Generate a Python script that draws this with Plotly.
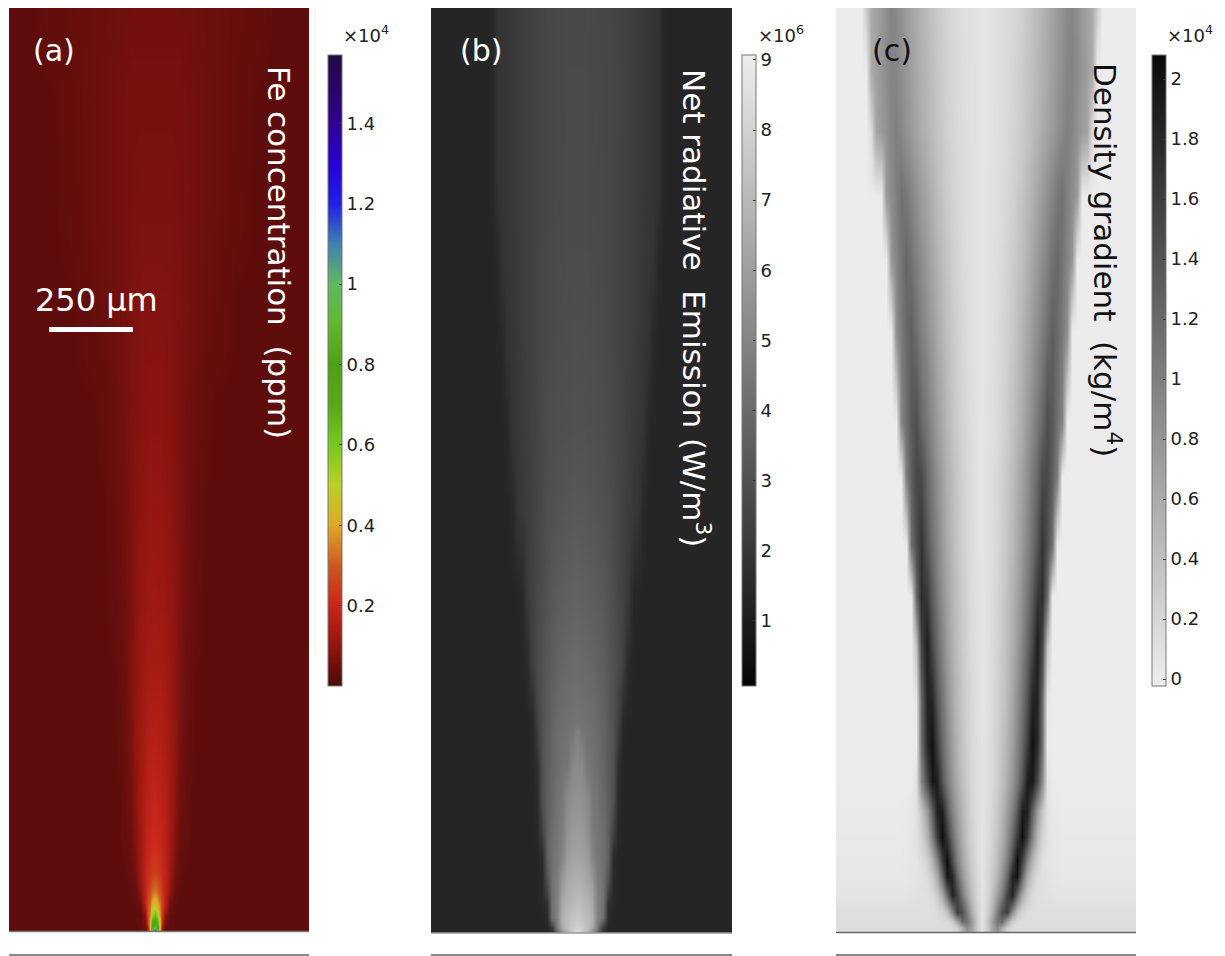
import plotly.graph_objects as go

W, H = 1225, 956
FONT = "DejaVu Sans"

# ---- shared half-profile helpers: tables hold the right half of each symmetric plume (um from axis)
fe_offsets = [0, 7, 15, 22, 30, 45, 60, 75, 90, 105, 120, 150, 180, 210, 240, 300, 360, 460]
fe_heights = [0, 12, 27, 48, 77, 122, 180, 270, 390, 570, 750, 985, 1280, 1580, 1880, 2175, 2470, 2750]
fe_rows = [
    [1.25, .95, .35, .10, .03],
    [.95, .82, .45, .13, .05, .03],
    [.78, .72, .42, .20, .07, .03],
    [.63, .55, .36, .24, .09, .03],
    [.46, .42, .33, .25, .17, .05, .03],
    [.33, .31, .27, .22, .18, .10, .04, .03],
    [.24, .235, .22, .20, .18, .12, .06, .035, .03],
    [.21, .205, .20, .19, .17, .13, .08, .045, .035, .03],
    [.19, .185, .18, .17, .16, .13, .09, .055, .04, .03],
    [.165, .16, .16, .155, .145, .125, .10, .065, .045, .035, .03],
    [.14, .14, .14, .135, .13, .115, .095, .07, .05, .04, .03],
    [.125, .125, .12, .12, .115, .105, .09, .07, .055, .045, .035, .03],
    [.105, .105, .105, .10, .10, .095, .085, .07, .06, .05, .04, .03],
    [.09, .09, .09, .09, .088, .082, .075, .068, .06, .052, .045, .035, .03],
    [.08, .08, .08, .08, .08, .078, .074, .07, .065, .06, .055, .045, .04, .035, .03],
    [.07, .07, .07, .07, .07, .07, .068, .066, .063, .06, .056, .05, .045, .04, .035, .03],
    [.065, .065, .065, .065, .065, .065, .065, .065, .06, .058, .055, .05, .046, .042, .038, .03],
    [.055, .055, .055, .055, .055, .055, .055, .055, .053, .052, .05, .047, .045, .042, .04, .035, .03],
]

em_offsets = [0, 15, 30, 45, 60, 75, 90, 105, 120, 135, 150, 165, 180, 195, 210, 225, 240, 255, 270, 285, 300, 460]
em_heights = [0, 15, 45, 90, 150, 225, 300, 400, 500, 600, 630, 800, 1000, 1250, 1500, 1750, 2000, 2200, 2750]
em_rows = [
    [8.8, 7.5, 6.5, 5.0, 3.5, 1.6, 1.3],
    [7.9, 7.7, 7.2, 6.4, 4.6, 2.0, 1.3],
    [7.6, 7.4, 7.1, 6.7, 5.0, 4.2, 1.5, 1.3],
    [7.2, 7.0, 6.8, 6.4, 4.9, 4.3, 1.8, 1.4, 1.3],
    [6.7, 6.6, 6.4, 5.9, 4.7, 4.3, 2.9, 1.5, 1.3],
    [6.2, 6.1, 5.9, 5.0, 4.5, 4.2, 3.6, 1.5, 1.3],
    [5.9, 5.8, 5.5, 4.7, 4.4, 4.1, 3.6, 2.4, 1.4, 1.3],
    [5.5, 5.4, 5.2, 4.5, 4.3, 3.9, 3.5, 3.0, 1.5, 1.3],
    [5.2, 5.1, 4.4, 4.3, 4.1, 3.8, 3.4, 3.0, 1.7, 1.3],
    [4.9, 4.4, 4.25, 4.15, 4.0, 3.75, 3.4, 3.0, 2.2, 1.35, 1.3],
    [4.3, 4.25, 4.2, 4.1, 3.95, 3.7, 3.35, 3.0, 2.4, 1.4, 1.3],
    [4.0, 3.95, 3.9, 3.8, 3.65, 3.5, 3.25, 3.0, 2.7, 2.3, 1.5, 1.3],
    [3.65, 3.6, 3.55, 3.5, 3.4, 3.25, 3.05, 2.85, 2.6, 2.4, 2.1, 1.4, 1.3],
    [3.25, 3.25, 3.2, 3.15, 3.1, 3.0, 2.9, 2.7, 2.55, 2.4, 2.2, 2.05, 1.9, 1.4, 1.3],
    [3.0, 3.0, 2.95, 2.95, 2.9, 2.85, 2.75, 2.65, 2.5, 2.4, 2.25, 2.1, 2.0, 1.9, 1.4, 1.3],
    [2.9, 2.9, 2.85, 2.85, 2.8, 2.75, 2.7, 2.6, 2.5, 2.4, 2.3, 2.2, 2.05, 1.95, 1.85, 1.4, 1.3],
    [2.8, 2.8, 2.8, 2.75, 2.75, 2.7, 2.65, 2.6, 2.5, 2.4, 2.3, 2.2, 2.1, 2.0, 1.95, 1.85, 1.4, 1.3],
    [2.75, 2.75, 2.75, 2.7, 2.7, 2.65, 2.6, 2.55, 2.5, 2.4, 2.3, 2.2, 2.1, 2.05, 1.95, 1.9, 1.8, 1.35, 1.3],
    [2.7, 2.7, 2.7, 2.65, 2.65, 2.6, 2.6, 2.5, 2.45, 2.4, 2.3, 2.2, 2.15, 2.05, 2.0, 1.9, 1.85, 1.35, 1.3],
]

dg_offsets = [0, 15, 30, 45, 60, 75, 90, 105, 120, 135, 150, 165, 180, 195, 210, 225, 240, 255, 270, 285, 300, 315, 330, 345, 360, 460]
dg_heights = [0, 15, 36, 62, 113, 167, 214, 285, 363, 450, 560, 690, 857, 1000, 1155, 1355, 1520, 1790, 2000, 2190, 2380, 2560, 2750]
dg_rows = [
    [.07, .30, .60, .80, .50, .20, .15, .13],
    [.07, .30, .65, .90, .55, .25, .15, .13],
    [.07, .30, .70, 1.1, 1.2, .70, .30, .18, .15, .13],
    [.07, .25, .55, 1.0, 1.45, 1.6, .90, .40, .20, .15, .12],
    [.07, .20, .38, .68, 1.05, 1.55, 1.85, 1.2, .60, .30, .15, .10, .10, .09, .08, .07],
    [.07, .17, .31, .52, .82, 1.25, 1.85, 1.95, 1.2, .60, .30, .15, .10, .08, .06, .05, .04],
    [.07, .15, .27, .44, .68, 1.0, 1.5, 2.05, 1.6, .95, .50, .25, .12, .07, .05, .04, .03],
    [.07, .13, .23, .37, .57, .83, 1.18, 1.65, 2.05, 1.6, 1.0, .50, .22, .10, .05, .03, .02],
    [.07, .12, .20, .33, .50, .72, .98, 1.35, 1.9, 1.9, 1.3, .75, .35, .10, .03, .02, .01],
    [.07, .11, .18, .28, .41, .58, .78, 1.05, 1.4, 1.9, 1.95, 1.5, .90, .10, 0],
    [.07, .11, .17, .26, .38, .52, .70, .94, 1.22, 1.6, 2.02, 1.8, 1.15, 0],
    [.07, .10, .16, .24, .34, .47, .63, .84, 1.1, 1.4, 1.85, 1.85, 1.2, .05, 0],
    [.07, .10, .15, .22, .31, .42, .56, .73, .95, 1.2, 1.5, 1.9, 1.55, .40, 0],
    [.07, .10, .14, .21, .30, .40, .52, .67, .85, 1.07, 1.32, 1.65, 1.75, 1.2, 0],
    [.07, .09, .13, .19, .27, .36, .47, .60, .76, .94, 1.14, 1.38, 1.7, 1.45, 1.15, 0],
    [.07, .09, .13, .18, .25, .33, .43, .55, .69, .85, 1.03, 1.22, 1.5, 1.5, 1.3, 1.0, 0],
    [.07, .09, .12, .16, .22, .29, .38, .48, .60, .74, .89, 1.05, 1.22, 1.45, 1.35, 1.15, .95, 0],
    [.07, .08, .11, .14, .19, .25, .32, .41, .51, .62, .74, .87, 1.0, 1.15, 1.3, 1.2, 1.05, .85, 0],
    [.07, .08, .10, .13, .17, .22, .28, .35, .43, .53, .64, .75, .87, .99, 1.12, 1.22, 1.1, .95, .78, 0],
    [.07, .08, .10, .12, .15, .19, .24, .30, .37, .45, .54, .64, .74, .85, .96, 1.07, 1.13, 1.0, .88, .74, 0],
    [.07, .08, .09, .11, .14, .17, .21, .25, .31, .37, .44, .51, .59, .67, .75, .83, .92, 1.0, .93, .83, .74, .66, .15, 0],
    [.07, .08, .09, .11, .13, .16, .19, .24, .29, .35, .41, .48, .55, .62, .70, .78, .86, .94, .97, .88, .78, .70, .60, 0],
    [.07, .08, .09, .10, .12, .15, .18, .22, .27, .32, .38, .45, .52, .59, .66, .74, .82, .90, .95, .86, .76, .68, .60, .30, 0],
]

fe_ticks = [0.2, 0.4, 0.6, 0.8, 1, 1.2, 1.4]
em_ticks = [1, 2, 3, 4, 5, 6, 7, 8, 9]
dg_ticks = [0, 0.2, 0.4, 0.6, 0.8, 1, 1.2, 1.4, 1.6, 1.8, 2]

fe_range = (0.0, 1.57)
em_range = (0.07, 9.07)
dg_range = (-0.023, 2.08)

fe_stops = [
    (0.0, "#4a0a0a"), (0.1, "#901510"), (0.2, "#c8261a"), (0.3, "#cc5a20"),
    (0.4, "#e0a828"), (0.5, "#b8d028"), (0.6, "#78c820"), (0.7, "#58a818"),
    (0.8, "#50a015"), (0.9, "#60b830"), (1.0, "#60b860"), (1.1, "#4080b0"),
    (1.2, "#2020e8"), (1.3, "#2800d0"), (1.4, "#300090"), (1.57, "#200a40"),
]
scale_bar_um = 250


def mirrored(offsets, rows):
    x = [-o for o in reversed(offsets)] + offsets[1:]
    z = []
    for r in rows:
        full = r + [r[-1]] * (len(offsets) - len(r))
        z.append(list(reversed(full)) + full[1:])
    return x, z


def px(v):
    return v / W


def py(v):
    return 1 - v / H


fig = go.Figure()
XR = [-435, 460]
panels = [
    dict(name="x", ax="xaxis", ay="yaxis", dom=(9, 309), top=8, bot=931),
    dict(name="x2", ax="xaxis2", ay="yaxis2", dom=(431, 732), top=8, bot=933),
    dict(name="x3", ax="xaxis3", ay="yaxis3", dom=(836, 1136), top=8, bot=933),
]

cb_common = dict(
    thickness=14, thicknessmode="pixels", len=631 / H, lenmode="fraction", yanchor="top",
    y=py(55), xanchor="left", xpad=0, ypad=0, outlinecolor="#777", outlinewidth=1,
    ticks="inside", ticklen=3, tickcolor="#333", tickwidth=1,
    tickfont=dict(family=FONT, size=18, color="#222"), ticklabelposition="outside",
)

fx, fz = mirrored(fe_offsets, fe_rows)
fig.add_trace(go.Heatmap(
    x=fx, y=fe_heights, z=fz, zsmooth="best", zmin=fe_range[0], zmax=fe_range[1], xaxis="x", yaxis="y",
    colorscale=[[v / fe_range[1], c] for v, c in fe_stops],
    colorbar=dict(cb_common, x=px(328), tickvals=fe_ticks, ticktext=[f"{t:g}" for t in fe_ticks]),
))
ex, ez = mirrored(em_offsets, em_rows)
fig.add_trace(go.Heatmap(
    x=ex, y=em_heights, z=ez, zsmooth="best", zmin=em_range[0], zmax=em_range[1], xaxis="x2", yaxis="y2",
    colorscale=[[0, "#050505"], [1, "#eeeeee"]],
    colorbar=dict(cb_common, x=px(742), tickvals=em_ticks, ticktext=[f"{t:g}" for t in em_ticks]),
))
dx, dz = mirrored(dg_offsets, dg_rows)
fig.add_trace(go.Heatmap(
    x=dx, y=dg_heights, z=dz, zsmooth="best", zmin=dg_range[0], zmax=dg_range[1], xaxis="x3", yaxis="y3",
    colorscale=[[0, "#eeeeee"], [1, "#0a0a0a"]],
    colorbar=dict(cb_common, x=px(1152), tickvals=dg_ticks, ticktext=[f"{t:g}" for t in dg_ticks]),
))

layout = dict(
    width=W, height=H, margin=dict(l=0, r=0, t=0, b=0), paper_bgcolor="white", plot_bgcolor="white",
    showlegend=False, font=dict(family=FONT),
)
for p in panels:
    layout[p["ax"]] = dict(domain=[px(p["dom"][0]), px(p["dom"][1])], range=XR, visible=False, fixedrange=True)
    layout[p["ay"]] = dict(domain=[py(p["bot"]), py(p["top"])], range=[0, 2750], visible=False, fixedrange=True)
fig.update_layout(**layout)


def note(text, x, y, size, color="white", angle=0, anchor="center"):
    fig.add_annotation(
        text=text, x=px(x), y=py(y), xref="paper", yref="paper", showarrow=False,
        font=dict(family=FONT, size=size, color=color), textangle=angle, xanchor=anchor, yanchor="middle",
    )


note("(a)", 54, 50, 30)
note("(b)", 481, 50, 30)
note("(c)", 892, 50, 30, color="#111")
note("250 µm", 96, 300, 32)
note("Fe concentration\u00a0\u00a0(ppm)", 279, 252, 31, angle=90)
note("Net radiative\u00a0\u00a0Emission (W/m<sup>3</sup>)", 696, 308, 31, angle=90)
note("Density gradient\u00a0\u00a0(kg/m<sup>4</sup>)", 1107, 260, 31, color="#111", angle=90)
note("×10<sup>4</sup>", 366, 34, 18, color="#222")
note("×10<sup>6</sup>", 781, 34, 18, color="#222")
note("×10<sup>4</sup>", 1190, 34, 18, color="#222")

# scale bar, in data units of panel (a)
fig.add_shape(type="line", xref="x", yref="y", x0=-315, x1=-315 + scale_bar_um, y0=1792, y1=1792,
              line=dict(color="white", width=5))

# base lines under each panel and the separators at the bottom of the page
for (l, r), yb, c in [((9, 309), 931.5, "#777777"), ((431, 732), 933, "#999999"), ((836, 1136), 932.5, "#666666")]:
    fig.add_shape(type="line", xref="paper", yref="paper", x0=px(l), x1=px(r), y0=py(yb), y1=py(yb),
                  line=dict(color=c, width=1.5))
    fig.add_shape(type="line", xref="paper", yref="paper", x0=px(l), x1=px(r), y0=py(955), y1=py(955),
                  line=dict(color="#888888", width=2))
fig.add_shape(type="line", xref="paper", yref="paper", x0=px(315), x1=px(315), y0=py(8), y1=py(655),
              line=dict(color="#f0e8e8", width=1))

fig.write_html("out.html", post_script="document.body.style.margin='0';document.body.style.overflow='hidden';",
               config=dict(displayModeBar=False))
